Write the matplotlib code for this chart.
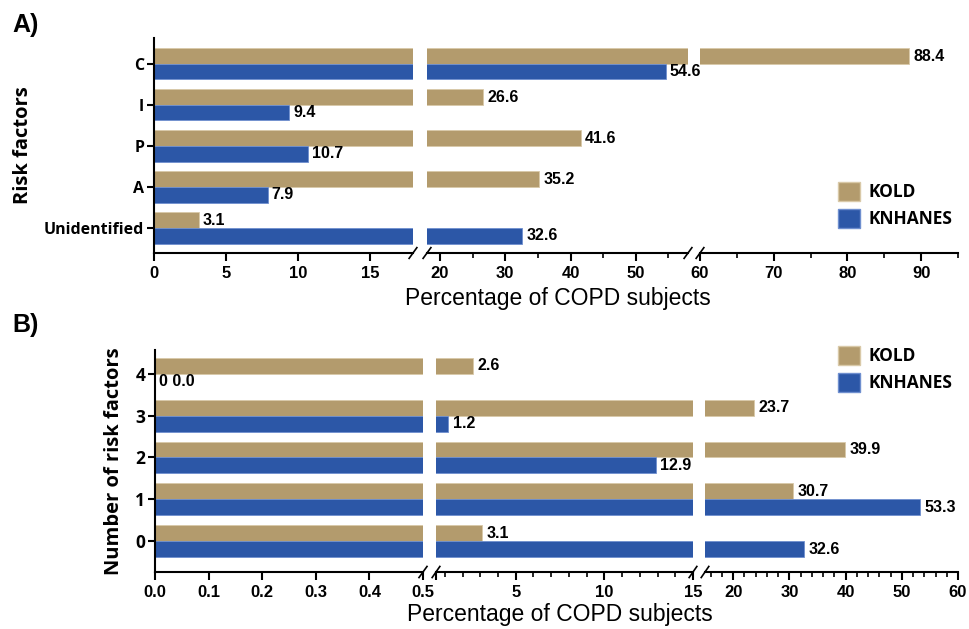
import matplotlib.pyplot as plt
import matplotlib.patches as mpatches
from matplotlib.ticker import MultipleLocator, FixedLocator
import numpy as np

# ---------------- data ----------------
risk_factors = ["Unidentified", "A", "P", "I", "C"]
a_kold = [3.1, 35.2, 41.6, 26.6, 88.4]
a_knhanes = [32.6, 7.9, 10.7, 9.4, 54.6]

n_factors = ["0", "1", "2", "3", "4"]
b_kold = [3.1, 30.7, 39.9, 23.7, 2.6]
b_knhanes = [32.6, 53.3, 12.9, 1.2, 0.0]
b_knhanes_text = ["32.6", "53.3", "12.9", "1.2", "0 0.0"]

KOLD_C = "#B39B6D"
KNH_C = "#2C57A7"
W, H = 970, 629

plt.rcParams["font.family"] = ["Liberation Sans", "DejaVu Sans"]
LABEL_FONT = ["Open Sans", "DejaVu Sans"]


def px_axes(fig, x0, x1, ytop, ybot):
    return fig.add_axes([x0 / W, 1 - ybot / H, (x1 - x0) / W, (ybot - ytop) / H])


def break_mark(ax, side):
    # little "/" on the bottom spine
    x = 1.0 if side == "right" else 0.0
    ax.plot([x - 0.015, x + 0.015], [-0.025, 0.025], transform=ax.transAxes,
            color="black", lw=1.2, clip_on=False)


def add_labels(ax, ys, vals, texts, lo, hi, last):
    for yy, v, txt in zip(ys, vals, texts):
        if lo <= v <= hi and not (v == hi and not last):
            ax.annotate(txt, (v, yy), xytext=(3, 0), textcoords="offset points",
                        va="center", ha="left", fontsize=11.5, fontweight="bold")


def draw_panel(fig, segs, ytop, ybot, cats, kold, knh, knh_text, ylim, ylabel,
               legend_xy, ytick_size):
    y = np.arange(len(cats))
    h = 0.38
    axes = []
    for i, (x0, x1, lo, hi, major, minor) in enumerate(segs):
        ax = px_axes(fig, x0, x1, ytop, ybot)
        ax.barh(y + h / 2, kold, height=h, color=KOLD_C, edgecolor="#D9C9A8", lw=0.6)
        ax.barh(y - h / 2, knh, height=h, color=KNH_C, edgecolor="#6F8FCF", lw=0.6)
        ax.set_xlim(lo, hi)
        ax.set_ylim(*ylim)
        ax.xaxis.set_major_locator(FixedLocator(major))
        if minor:
            ax.xaxis.set_minor_locator(MultipleLocator(minor))
        for s in ["top", "right"]:
            ax.spines[s].set_visible(False)
        ax.spines["bottom"].set_linewidth(1.5)
        ax.spines["left"].set_linewidth(1.5)
        ax.tick_params(axis="x", which="major", length=6, width=1.5, labelsize=12)
        ax.tick_params(axis="x", which="minor", length=3.5, width=1.2)
        for t in ax.get_xticklabels():
            t.set_fontweight("bold")
        if i == 0:
            ax.set_yticks(y)
            ax.set_yticklabels(cats, fontsize=ytick_size, fontweight="bold",
                               family=LABEL_FONT)
            ax.tick_params(axis="y", length=5, width=1.5, pad=2)
            ax.set_ylabel(ylabel, fontsize=14.5, fontweight="bold",
                          family=LABEL_FONT, labelpad=8)
        else:
            ax.spines["left"].set_visible(False)
            ax.set_yticks([])
        last = i == len(segs) - 1
        if not last:
            break_mark(ax, "right")
        if i > 0:
            break_mark(ax, "left")
        # value labels in the segment where the bar ends
        add_labels(ax, y + h / 2, kold, [f"{k:.1f}" for k in kold], lo, hi, last)
        add_labels(ax, y - h / 2, knh, knh_text, lo, hi, last)
        axes.append(ax)
    handles = [mpatches.Patch(facecolor=KOLD_C, edgecolor="#D9C9A8", label="KOLD"),
               mpatches.Patch(facecolor=KNH_C, edgecolor="#6F8FCF", label="KNHANES")]
    fig.legend(handles=handles, loc="upper left",
               bbox_to_anchor=(legend_xy[0] / W, 1 - legend_xy[1] / H),
               frameon=False, prop={"family": LABEL_FONT, "weight": "bold", "size": 12.5},
               handlelength=1.3, handleheight=1.3, handletextpad=0.5,
               labelspacing=0.45)
    return axes


fig = plt.figure(figsize=(W / 100, H / 100), dpi=100)

segs_a = [(154, 413, 0, 18, [0, 5, 10, 15], None),
          (427, 688, 18, 58, [20, 30, 40, 50], 5),
          (700, 958, 60, 95, [60, 70, 80, 90], 5)]
axA = draw_panel(fig, segs_a, 38, 253, risk_factors, a_kold, a_knhanes,
                 [f"{v:.1f}" for v in a_knhanes], (-0.61, 4.63), "Risk factors",
                 (822, 166), 11.5)

segs_b = [(155, 423, 0, 0.5, [0.0, 0.1, 0.2, 0.3, 0.4, 0.5], None),
          (436, 693, 0.5, 15, [5, 10, 15], 1),
          (705, 958, 15, 60, [20, 30, 40, 50, 60], 2)]
axB = draw_panel(fig, segs_b, 350, 572, n_factors, b_kold, b_knhanes,
                 b_knhanes_text, (-0.74, 4.57), "Number of risk factors",
                 (822, 330), 12.5)
axB[0].set_xticklabels(["0.0", "0.1", "0.2", "0.3", "0.4", "0.5"],
                       fontweight="bold")
axB[1].set_xticks([0.5, 5, 10, 15])
axB[1].set_xticklabels(["", "5", "10", "15"], fontweight="bold")

fig.text(558 / W, 1 - 298 / H, "Percentage of COPD subjects", fontsize=16.5,
         ha="center", va="center")
fig.text(560 / W, 1 - 614 / H, "Percentage of COPD subjects", fontsize=16.5,
         ha="center", va="center")

fig.text(12 / W, 1 - 25 / H, "A)", fontsize=18, fontweight="bold", va="center")
fig.text(12 / W, 1 - 325 / H, "B)", fontsize=18, fontweight="bold", va="center")

fig.savefig("out.png", dpi=100)
